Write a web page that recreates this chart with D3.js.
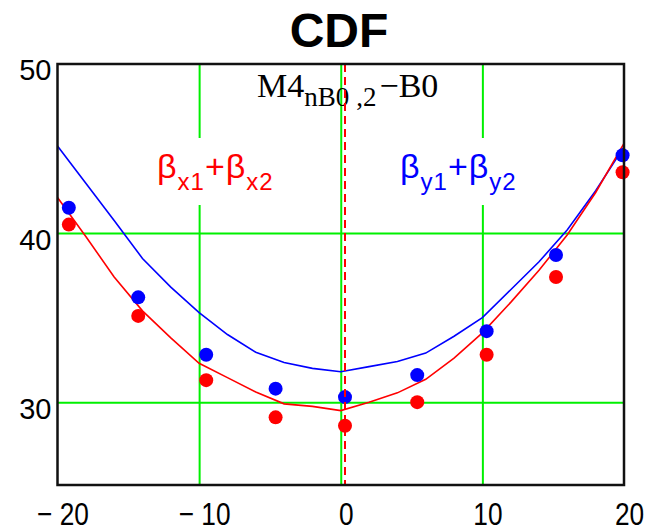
<!DOCTYPE html>
<html>
<head>
<meta charset="utf-8">
<script src="https://cdn.jsdelivr.net/npm/d3@7"></script>
<style>
  body { margin: 0; background: #fff; }
  svg { display: block; }
</style>
</head>
<body>
<svg id="chart" width="657" height="531"></svg>
<script>
// measured points (markers)
const pointX = [-19.2, -14.3, -9.5, -4.6, 0.3, 5.4, 10.3, 15.2, 19.9];
const pointRed = [40.5, 35.1, 31.3, 29.1, 28.6, 30.0, 32.8, 37.4, 43.6];
const pointBlue = [41.5, 36.2, 32.8, 30.8, 30.3, 31.6, 34.2, 38.7, 44.6];

// fitted curves
const lineX = [-20, -18, -16, -14, -12, -10, -8, -6, -4, -2, 0, 2, 4, 6, 8, 10, 12, 14, 16, 18, 20];
const lineRed = [42.1, 39.8, 37.4, 35.4, 33.8, 32.3, 31.45, 30.6, 29.9, 29.75, 29.5, 30.0, 30.55, 31.35, 32.6, 34.1, 35.9, 37.8, 39.9, 42.4, 45.3];
const lineBlue = [45.15, 42.95, 40.75, 38.5, 36.8, 35.3, 34.0, 32.95, 32.35, 32.0, 31.8, 32.1, 32.4, 32.9, 33.9, 35.0, 36.65, 38.3, 40.2, 42.5, 45.1];

const xTicks = [-20, -10, 0, 10, 20];
const yTicks = [30, 40, 50];
const xGrid = [-10, 0, 10];
const yGrid = [30, 40];
const xDomain = [-20, 20];
const yDomain = [25.1, 50];
const markerX = 0.3;

const margin = {top: 64, right: 33, bottom: 46, left: 57.5};
const svg = d3.select('#chart');
const W = +svg.attr('width'), H = +svg.attr('height');
const iw = W - margin.left - margin.right;
const ih = H - margin.top - margin.bottom;

const x = d3.scaleLinear().domain(xDomain).range([0, iw]);
const y = d3.scaleLinear().domain(yDomain).range([ih, 0]);

// title
svg.append('text')
    .attr('x', 339).attr('y', 47)
    .attr('text-anchor', 'middle')
    .style('font-family', 'Liberation Sans, Arial, sans-serif')
    .style('font-weight', 'bold')
    .style('font-size', '48px')
    .text('CDF');

const g = svg.append('g')
    .attr('transform', `translate(${margin.left},${margin.top})`);

// green grid
g.append('g')
    .call(d3.axisBottom(x).tickValues(xGrid).tickSize(ih).tickFormat(''))
    .call(s => s.select('.domain').remove())
    .selectAll('line').attr('stroke', '#00f000').attr('stroke-width', 2);
g.append('g')
    .call(d3.axisRight(y).tickValues(yGrid).tickSize(iw).tickFormat(''))
    .call(s => s.select('.domain').remove())
    .selectAll('line').attr('stroke', '#00f000').attr('stroke-width', 2);

// y tick labels
g.append('g')
    .call(d3.axisLeft(y).tickValues(yTicks).tickSize(0).tickPadding(6))
    .call(s => s.select('.domain').remove())
    .selectAll('text')
    .attr('dy', '0.55em')
    .attr('fill', '#000')
    .style('font-family', 'Liberation Sans, Arial, sans-serif')
    .style('font-size', '29px');

// x tick labels (narrow)
const xl = g.append('g')
    .attr('transform', `translate(0,${ih})`)
    .call(d3.axisBottom(x).tickValues(xTicks).tickSize(0).tickPadding(17)
        .tickFormat(d => d < 0 ? '\u2212 ' + Math.abs(d) : String(d)))
    .call(s => s.select('.domain').remove());
xl.selectAll('text')
    .attr('dx', 5)
    .attr('fill', '#000')
    .style('font-family', 'Liberation Sans Narrow, Liberation Sans, Arial, sans-serif')
    .style('font-size', '32px')
    .each(function(){
        const w = this.getComputedTextLength();
        d3.select(this).attr('textLength', w * 0.82).attr('lengthAdjust', 'spacingAndGlyphs');
    });

// beta labels with white backing
function betaLabel(x0, color, sub1, sub2){
    const t = g.append('text')
        .attr('x', x0).attr('y', 178 - margin.top)
        .attr('fill', color)
        .style('font-family', 'Liberation Sans, Arial, sans-serif')
        .style('font-size', '34px')
        .style('letter-spacing', '1px');
    t.append('tspan').text('\u03b2');
    t.append('tspan').attr('dy', 12).style('font-size', '24px').text(sub1);
    t.append('tspan').attr('dy', -12).text('+\u03b2');
    t.append('tspan').attr('dy', 12).style('font-size', '24px').text(sub2);
    const bb = t.node().getBBox();
    g.insert('rect', () => t.node())
        .attr('x', bb.x - 2).attr('y', 138 - margin.top)
        .attr('width', bb.width + 4).attr('height', 67)
        .attr('fill', '#fff');
}
betaLabel(157 - margin.left, '#ff0000', 'x1', 'x2');
betaLabel(400 - margin.left, '#0000ff', 'y1', 'y2');

// M4 label
const m4 = g.append('text')
    .attr('x', 257 - margin.left).attr('y', 97 - margin.top)
    .attr('fill', '#000')
    .style('font-family', 'Liberation Serif, Times New Roman, serif')
    .style('font-size', '34px');
m4.append('tspan').text('M4');
m4.append('tspan').attr('dy', 9).style('font-size', '27px').text('nB0');
m4.append('tspan').attr('dx', 7).style('font-size', '27px').text(',2');
m4.append('tspan').attr('dy', -9).attr('dx', 3).text('\u2212B0');

// curves
const line = d3.line().x((d, i) => x(lineX[i])).y(d => y(d));
g.append('path').datum(lineBlue)
    .attr('d', line).attr('fill', 'none')
    .attr('stroke', '#0000ff').attr('stroke-width', 1.6);
g.append('path').datum(lineRed)
    .attr('d', line).attr('fill', 'none')
    .attr('stroke', '#ff0000').attr('stroke-width', 1.6);

// markers
g.append('g').selectAll('circle')
    .data(pointRed).enter().append('circle')
    .attr('cx', (d, i) => x(pointX[i])).attr('cy', d => y(d))
    .attr('r', 7).attr('fill', '#ff0000');
g.append('g').selectAll('circle')
    .data(pointBlue).enter().append('circle')
    .attr('cx', (d, i) => x(pointX[i])).attr('cy', d => y(d))
    .attr('r', 7).attr('fill', '#0000ff');

// red dashed marker line
g.append('line')
    .attr('x1', x(markerX)).attr('x2', x(markerX))
    .attr('y1', 0).attr('y2', ih)
    .attr('stroke', '#ff0000').attr('stroke-width', 2)
    .attr('stroke-dasharray', '8,5');

// frame
g.append('rect')
    .attr('width', iw).attr('height', ih)
    .attr('fill', 'none').attr('stroke', '#111').attr('stroke-width', 2.5);
</script>
</body>
</html>
